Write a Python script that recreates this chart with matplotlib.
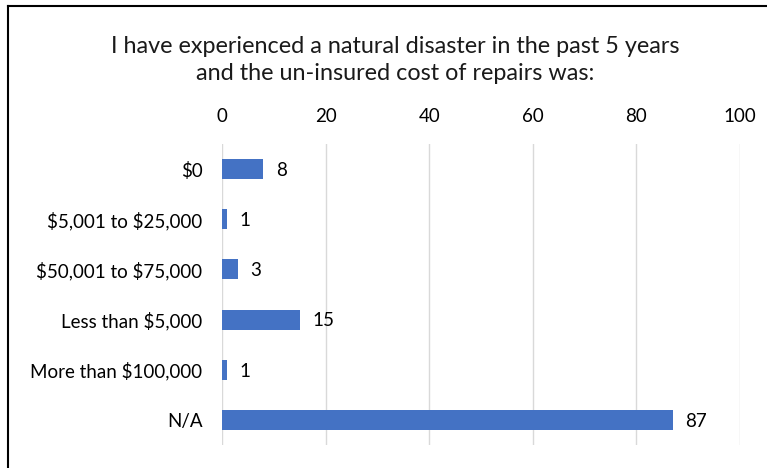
import matplotlib
matplotlib.use("Agg")
import matplotlib.pyplot as plt
from matplotlib.lines import Line2D

categories = ["$0", "$5,001 to $25,000", "$50,001 to $75,000",
              "Less than $5,000", "More than $100,000", "N/A"]
counts = [8, 1, 3, 15, 1, 87]
x_ticks = [0, 20, 40, 60, 80, 100]
title = "I have experienced a natural disaster in the past 5 years\nand the un-insured cost of repairs was:"

plt.rcParams["font.family"] = ["Lato", "DejaVu Sans"]
plt.rcParams["text.parse_math"] = False

W, H = 767, 468
fig = plt.figure(figsize=(W / 100, H / 100), dpi=100)

left, right = 222 / W, 740 / W
top, bottom = 1 - 144 / H, 1 - 445 / H
ax = fig.add_axes([left, bottom, right - left, top - bottom])

y = list(range(len(categories)))
ax.barh(y, counts, height=0.4, color="#4472C4", zorder=3)
for yi, v in zip(y, counts):
    ax.annotate(str(v), (v, yi), xytext=(9, -1), textcoords="offset points",
                va="center", ha="left", fontsize=13.5, color="#000000")

ax.set_xlim(0, 100)
ax.set_ylim(len(categories) - 0.5, -0.5)
ax.set_xticks(x_ticks)
ax.set_xticklabels([str(t) for t in x_ticks])
ax.set_yticks(y)
ax.set_yticklabels(categories)
ax.xaxis.tick_top()
ax.tick_params(axis="x", length=0, pad=14, labelsize=13.5, colors="#000000")
ax.tick_params(axis="y", length=0, pad=14, labelsize=13.5, colors="#000000")
ax.grid(axis="x", color="#D9D9D9", linewidth=1, zorder=0)
for s in ax.spines.values():
    s.set_visible(False)

fig.text(395 / W, 1 - 60 / H, title, ha="center", va="center",
         fontsize=16.8, linespacing=1.3, color="#1a1a1a")

# outer frame (top and left edges)
fig.add_artist(Line2D([8 / W, 1.0], [1 - 6 / H, 1 - 6 / H],
                      transform=fig.transFigure, color="black", linewidth=1.5))
fig.add_artist(Line2D([8 / W, 8 / W], [0.0, 1 - 6 / H],
                      transform=fig.transFigure, color="black", linewidth=1.5))

fig.savefig("out.png", dpi=100, facecolor="white")
